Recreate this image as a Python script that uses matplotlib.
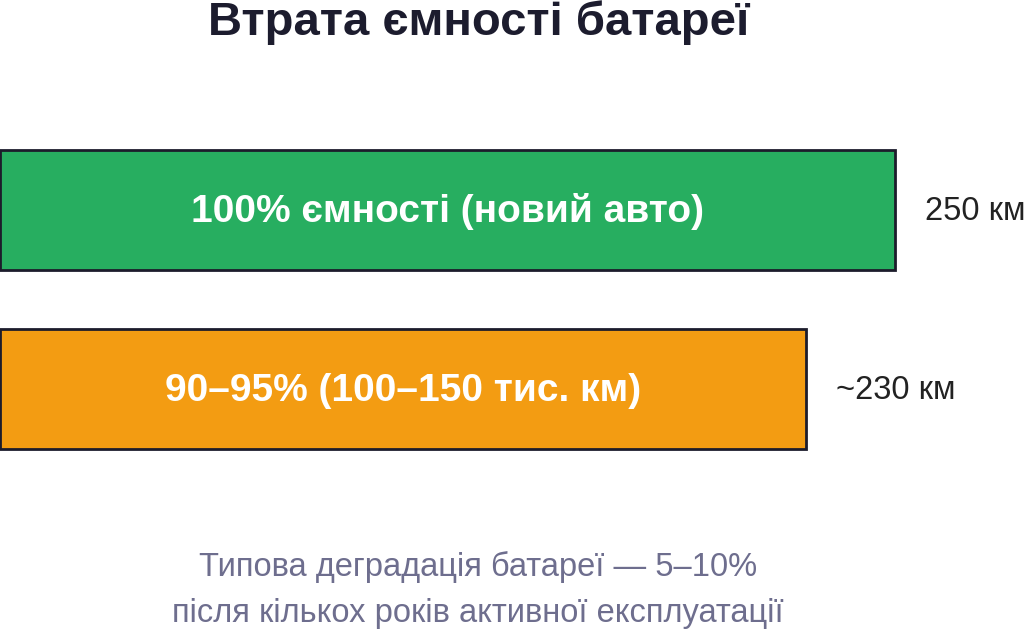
import matplotlib
matplotlib.use("Agg")
import matplotlib.pyplot as plt

plt.rcParams['font.family'] = ['Liberation Sans', 'DejaVu Sans']

# data
categories = ['100% ємності (новий авто)', '90–95% (100–150 тис. км)']
capacity = [100, 90]
range_labels = ['250 км', '~230 км']
bar_colors = ['#27ae60', '#f39c12']

title = 'Втрата ємності батареї'
footer = ['Типова деградація батареї — 5–10%',
          'після кількох років активної експлуатації']

fig = plt.figure(figsize=(10.24, 6.35), dpi=100)
ax = fig.add_axes([0, 0, 1, 1])

ypos = list(range(len(categories)))
bars = ax.barh(ypos, capacity, height=0.665, color=bar_colors,
               edgecolor='#1c1c2b', linewidth=2)

ax.set_xlim(0, 100 * 1024 / 895)
ax.set_ylim(2.374, -1.173)
ax.axis('off')

for b, lab, rng in zip(bars, categories, range_labels):
    yc = b.get_y() + b.get_height() / 2
    ax.annotate(lab, (b.get_width() / 2, yc), xytext=(0, -12),
                textcoords='offset pixels', ha='center', va='baseline',
                color='white', fontsize=28, fontweight='bold')
    ax.annotate(rng, (b.get_width(), yc), xytext=(30, -10),
                textcoords='offset pixels', ha='left', va='baseline',
                fontsize=23.5, color='#222222')

fig.text(0.467, 1 - 35 / 635, title, ha='center', va='baseline',
         fontsize=34, fontweight='bold', color='#1c1c2e')
fig.text(0.467, 1 - 576 / 635, footer[0], ha='center', va='baseline',
         fontsize=23.5, color='#6e6e8e')
fig.text(0.467, 1 - 622 / 635, footer[1], ha='center', va='baseline',
         fontsize=23.5, color='#6e6e8e')

fig.savefig('out.png', dpi=100)
